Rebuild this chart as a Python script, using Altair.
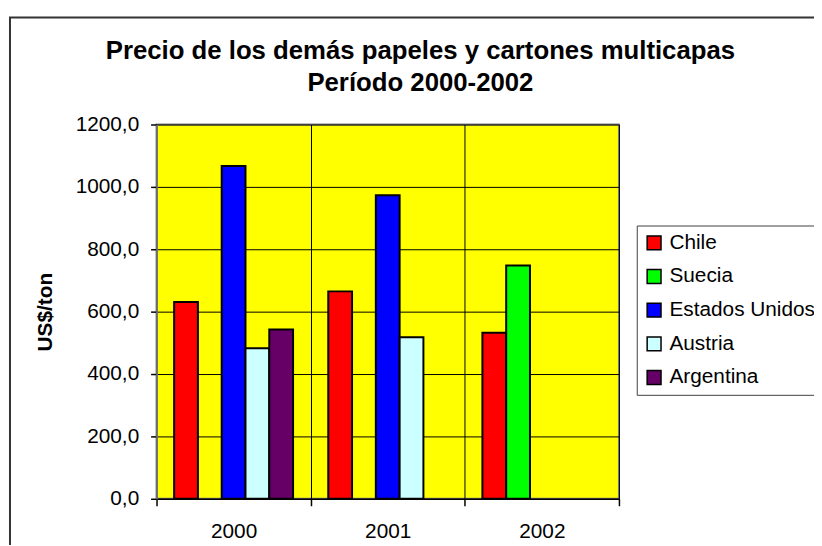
import altair as alt
import pandas as pd

title_lines = ["Precio de los demás papeles y cartones multicapas", "Período 2000-2002"]
years = ["2000", "2001", "2002"]
series = ["Chile", "Suecia", "Estados Unidos", "Austria", "Argentina"]
colors = ["#FF0000", "#00FF00", "#0000FF", "#CCFFFF", "#660066"]

chile = [631, 665, 532]
suecia = [None, None, 748]
estados_unidos = [1067, 973, None]
austria = [483, 518, None]
argentina = [543, None, None]

rows = []
for name, vals in zip(series, [chile, suecia, estados_unidos, austria, argentina]):
    for y, v in zip(years, vals):
        if v is not None:
            rows.append({"Año": y, "País": name, "Precio": v})
df = pd.DataFrame(rows)

FONT = "Liberation Sans"

bars = alt.Chart(df).mark_bar(stroke="black", strokeWidth=2).encode(
    x=alt.X("Año:N", sort=years,
            scale=alt.Scale(paddingInner=0, paddingOuter=0),
            axis=alt.Axis(title=None, labelAngle=0, tickBand="extent", grid=True,
                          gridColor="black", gridWidth=1, gridOpacity=1,
                          tickColor="black", tickSize=7, tickWidth=1.5,
                          domainColor="black", domainWidth=1.5,
                          labelFont=FONT, labelFontSize=21, labelColor="black",
                          labelPadding=15)),
    xOffset=alt.XOffset("País:N", sort=series,
                        scale=alt.Scale(domain=series, paddingInner=0, paddingOuter=0.74)),
    y=alt.Y("Precio:Q",
            scale=alt.Scale(domain=[0, 1200], nice=False),
            axis=alt.Axis(title="US$/ton", values=[0, 200, 400, 600, 800, 1000, 1200],
                          labelExpr="replace(format(datum.value, '.1f'), '.', ',')",
                          grid=True, gridColor="black", gridWidth=1, gridOpacity=1,
                          tickColor="black", tickSize=6, tickWidth=1.5,
                          domainColor="#808080", domainWidth=1.5,
                          labelFont=FONT, labelFontSize=21, labelColor="black",
                          labelPadding=12,
                          titleFont=FONT, titleFontSize=21, titleFontWeight="bold",
                          titleColor="black", titleAngle=-90, titleAlign="center",
                          titleBaseline="middle", titleX=-112, titleY=189)),
    color=alt.Color("País:N", sort=series,
                    scale=alt.Scale(domain=series, range=colors),
                    legend=alt.Legend(title=None, orient="none", legendX=485, legendY=102,
                                      symbolType="square", symbolSize=196,
                                      symbolStrokeColor="black", symbolStrokeWidth=1.5,
                                      symbolOpacity=1,
                                      labelFont=FONT, labelFontSize=21, labelColor="black",
                                      labelOffset=5, rowPadding=12, padding=7,
                                      strokeColor="#404040", fillColor="white",
                                      labelLimit=400)),
)

one = pd.DataFrame({"k": [0]})

frame = alt.Chart(one).mark_rect(
    fillOpacity=0, stroke="#333333", strokeWidth=2
).encode(
    x=alt.value(-148), x2=alt.value(700), y=alt.value(-108), y2=alt.value(460)
)

title1 = alt.Chart(one).mark_text(
    text=title_lines[0], font=FONT, fontSize=26, fontWeight="bold", color="black",
    align="center", baseline="alphabetic"
).encode(x=alt.value(266.5), y=alt.value(-66))

title2 = alt.Chart(one).mark_text(
    text=title_lines[1], font=FONT, fontSize=26, fontWeight="bold", color="black",
    align="center", baseline="alphabetic"
).encode(x=alt.value(266.5), y=alt.value(-34))

chart = alt.layer(frame, title1, title2, bars).properties(
    width=467, height=378,
    autosize=alt.AutoSizeParams(type="none"),
    padding={"left": 150, "top": 115, "right": 197, "bottom": 44},
    background="white",
).configure_view(
    fill="#FFFF00", stroke="#808080", strokeWidth=2
)

chart.save("out.html", embed_options={"renderer": "svg", "actions": False})
